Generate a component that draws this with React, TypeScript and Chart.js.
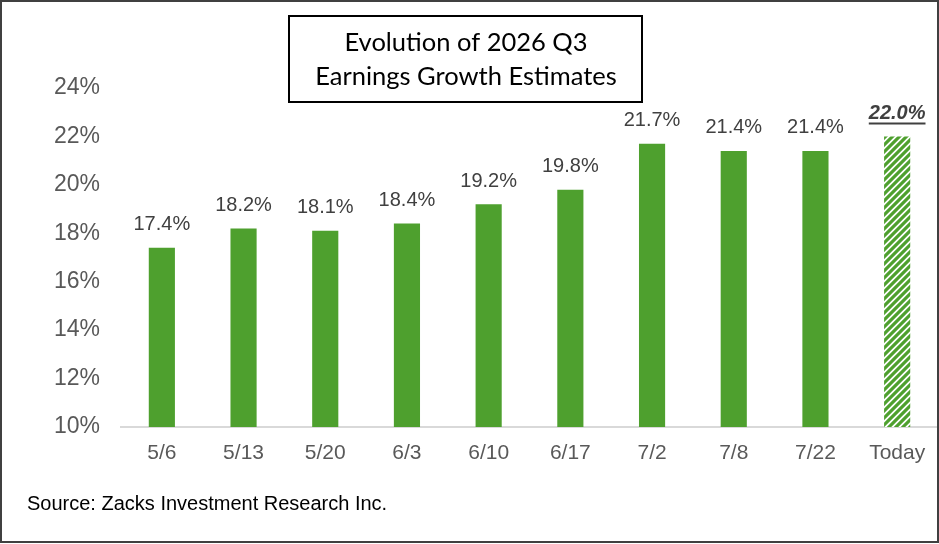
import React, { useEffect, useRef } from "react";
import { Chart, registerables } from "chart.js";

Chart.register(...registerables);

const categories = ["5/6", "5/13", "5/20", "6/3", "6/10", "6/17", "7/2", "7/8", "7/22", "Today"];
const growthValues = [17.4, 18.2, 18.1, 18.4, 19.2, 19.8, 21.7, 21.4, 21.4, 22.0];
const yMin = 10;
const yMax = 24;
const yStep = 2;
const titleLines = ["Evolution of 2026 Q3", "Earnings Growth Estimates"];
const sourceText = "Source: Zacks Investment Research Inc.";

const GREEN = "#4EA02E";
const AXIS_FONT = '"Liberation Sans", Arial, sans-serif';

function makeHatch(): CanvasPattern | string {
  const c = document.createElement("canvas");
  const s = 7;
  c.width = s;
  c.height = s;
  const g = c.getContext("2d");
  if (!g) return GREEN;
  g.fillStyle = "#ffffff";
  g.fillRect(0, 0, s, s);
  g.strokeStyle = GREEN;
  g.lineWidth = 3.2;
  g.beginPath();
  g.moveTo(-1, s + 1);
  g.lineTo(s + 1, -1);
  g.moveTo(-2, 2);
  g.lineTo(2, -2);
  g.moveTo(s - 2, s + 2);
  g.lineTo(s + 2, s - 2);
  g.stroke();
  const p = g.createPattern(c, "repeat");
  return p || GREEN;
}

const decorPlugin = {
  id: "decor",
  afterDraw(chart: any) {
    const ctx: CanvasRenderingContext2D = chart.ctx;
    ctx.save();
    // outer frame
    ctx.strokeStyle = "#404040";
    ctx.lineWidth = 2;
    ctx.strokeRect(1, 1, 937, 541);
    // title box
    ctx.strokeStyle = "#000000";
    ctx.lineWidth = 2;
    ctx.strokeRect(289, 16, 353, 86);
    ctx.fillStyle = "#000000";
    ctx.font = '25.5px Lato, "Open Sans", sans-serif';
    ctx.textAlign = "center";
    ctx.textBaseline = "middle";
    ctx.fillText(titleLines[0], 466, 43);
    ctx.fillText(titleLines[1], 466, 77);
    // source
    ctx.font = "20px " + AXIS_FONT;
    ctx.textAlign = "left";
    ctx.fillText(sourceText, 27, 504);
    // data labels
    const meta = chart.getDatasetMeta(0);
    const last = growthValues.length - 1;
    meta.data.forEach((bar: any, i: number) => {
      const txt = growthValues[i].toFixed(1) + "%";
      const y = bar.y - 23;
      ctx.fillStyle = "#404040";
      ctx.textAlign = "center";
      ctx.textBaseline = "middle";
      if (i === last) {
        ctx.font = "italic bold 20px " + AXIS_FONT;
        ctx.fillText(txt, bar.x, y);
        const w = ctx.measureText(txt).width;
        ctx.strokeStyle = "#404040";
        ctx.lineWidth = 2;
        ctx.beginPath();
        ctx.moveTo(bar.x - w / 2, y + 10);
        ctx.lineTo(bar.x + w / 2, y + 10);
        ctx.stroke();
      } else {
        ctx.font = "20px " + AXIS_FONT;
        ctx.fillText(txt, bar.x, y);
      }
    });
    ctx.restore();
  },
};

export default function App() {
  const ref = useRef<HTMLCanvasElement | null>(null);
  useEffect(() => {
    if (!ref.current) return;
    const hatch = makeHatch();
    const colors = growthValues.map((_, i) => (i === growthValues.length - 1 ? hatch : GREEN));
    const chart = new Chart(ref.current, {
      type: "bar",
      data: {
        labels: categories,
        datasets: [
          {
            data: growthValues,
            backgroundColor: colors as any,
            borderWidth: 0,
            barPercentage: 0.32,
            categoryPercentage: 1,
          },
        ],
      },
      options: {
        responsive: false,
        animation: false,
        devicePixelRatio: 1,
        layout: { padding: { top: 88, bottom: 77, left: 0, right: 1 } },
        plugins: { legend: { display: false }, tooltip: { enabled: false }, title: { display: false } },
        scales: {
          x: {
            grid: { display: false },
            border: { display: true, color: "#d9d9d9", width: 2 },
            ticks: { color: "#595959", font: { family: AXIS_FONT, size: 21 }, padding: 6, maxRotation: 0 },
            afterFit: (s: any) => {
              s.height = 40;
            },
          },
          y: {
            min: yMin,
            max: yMax,
            grid: { display: false },
            border: { display: false },
            ticks: {
              stepSize: yStep,
              color: "#595959",
              font: { family: AXIS_FONT, size: 23 },
              padding: 13,
              callback: (v: any) => v + "%",
            },
            afterFit: (s: any) => {
              s.width = 121;
            },
          },
        },
      },
      plugins: [decorPlugin],
    });
    return () => chart.destroy();
  }, []);
  return (
    <div style={{ position: "absolute", left: 0, top: 0, width: 939, height: 544, background: "#fff" }}>
      <canvas ref={ref} width={939} height={544} style={{ display: "block" }} />
    </div>
  );
}
